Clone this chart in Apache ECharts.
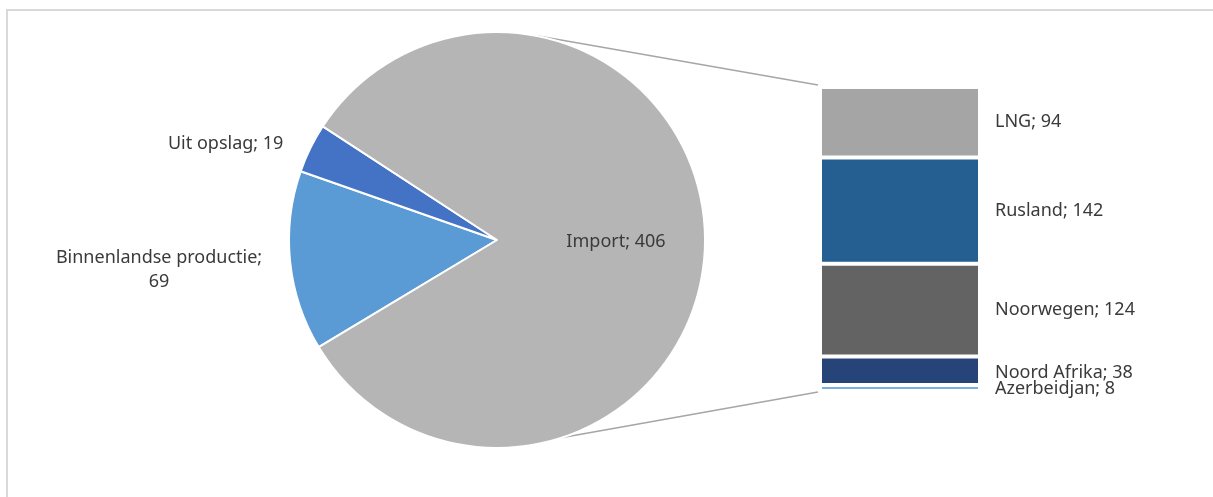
<!DOCTYPE html>
<html>
<head>
<meta charset="utf-8">
<script src="https://cdn.jsdelivr.net/npm/echarts@6/dist/echarts.min.js"></script>
<style>
  html, body { margin: 0; padding: 0; background: #ffffff; }
  #chart { width: 1213px; height: 497px; }
</style>
</head>
<body>
<div id="chart"></div>
<script>
// ---- data ----
var pieNames = ['Binnenlandse productie', 'Uit opslag', 'Import'];
var pieValues = [69, 19, 406];
var importNames = ['LNG', 'Rusland', 'Noorwegen', 'Noord Afrika', 'Azerbeidjan'];
var importValues = [94, 142, 124, 38, 8];

// ---- styles / layout ----
var pieColors = ['#5b9bd5', '#4472c4', '#b5b5b5'];
var barColors = ['#a5a5a5', '#255e91', '#636363', '#264478', '#7cafdd'];
var FONT = 'Noto Sans';
var TEXT = '#3a3a3a';
var pieCx = 497, pieCy = 240, pieR = 208;
var gridL = 820, gridT = 87, gridW = 160, gridH = 304;

var chart = echarts.init(document.getElementById('chart'), null, { renderer: 'canvas' });

var importTotal = importValues.reduce(function (a, b) { return a + b; }, 0);

var pieData = pieNames.map(function (n, i) {
  var item = { name: n, value: pieValues[i], itemStyle: { color: pieColors[i] } };
  if (n === 'Import') {
    item.label = { position: 'inside', offset: [12, 0] };
  } else if (n === 'Binnenlandse productie') {
    item.label = { offset: [0, 8] };
  }
  return item;
});

var barSeries = importNames.map(function (n, i) {
  return {
    type: 'bar',
    name: n,
    stack: 'imp',
    xAxisIndex: 0,
    yAxisIndex: 0,
    barWidth: '100%',
    data: [importValues[i]],
    itemStyle: { color: barColors[i], borderColor: '#ffffff', borderWidth: 2 },
    label: {
      show: true,
      position: 'right',
      distance: 15,
      formatter: '{a}; {c}',
      color: TEXT,
      fontFamily: FONT,
      fontSize: 18,
      offset: [0, n === 'Noord Afrika' ? 2 : (n === 'Azerbeidjan' ? 1 : 0)]
    },
    silent: true
  };
});

function angPt(deg) {
  var a = deg * Math.PI / 180;
  return [pieCx + pieR * Math.cos(a), pieCy - pieR * Math.sin(a)];
}

var option = {
  animation: false,
  backgroundColor: '#ffffff',
  textStyle: { fontFamily: FONT },
  grid: { left: gridL, top: gridT, width: gridW, height: gridH, containLabel: false },
  xAxis: { type: 'category', data: ['Import'], show: false },
  yAxis: { type: 'value', min: 0, max: importTotal, inverse: true, show: false },
  graphic: [
    { type: 'rect', shape: { x: 7, y: 10, width: 1300, height: 600 },
      style: { fill: 'none', stroke: '#d9d9d9', lineWidth: 2 }, silent: true },
    { type: 'polyline', shape: { points: [angPt(79), [gridL - 2, gridT - 2]] },
      style: { stroke: '#a6a6a6', lineWidth: 1.5, fill: 'none' }, silent: true, z: -1 },
    { type: 'polyline', shape: { points: [angPt(-72), [gridL - 2, gridT + gridH + 1]] },
      style: { stroke: '#a6a6a6', lineWidth: 1.5, fill: 'none' }, silent: true, z: -1 }
  ],
  series: [
    {
      type: 'pie',
      center: [pieCx, pieCy],
      radius: pieR,
      startAngle: 211,
      clockwise: true,
      avoidLabelOverlap: false,
      silent: true,
      itemStyle: { borderColor: '#ffffff', borderWidth: 2 },
      label: {
        show: true,
        position: 'outside',
        color: TEXT,
        fontFamily: FONT,
        fontSize: 18,
        formatter: function (p) {
          var sep = p.name.length > 15 ? ';\n' : '; ';
          var txt = p.name + sep + p.value;
          return txt.split('\n').map(function (l) { return '{t|' + l + '}'; }).join('\n');
        },
        rich: {
          t: { align: 'center', color: TEXT, fontFamily: FONT, fontSize: 18, lineHeight: 24 }
        }
      },
      labelLine: { show: false, length: 10, length2: 13 },
      data: pieData
    }
  ].concat(barSeries)
};

chart.setOption(option);
</script>
</body>
</html>
